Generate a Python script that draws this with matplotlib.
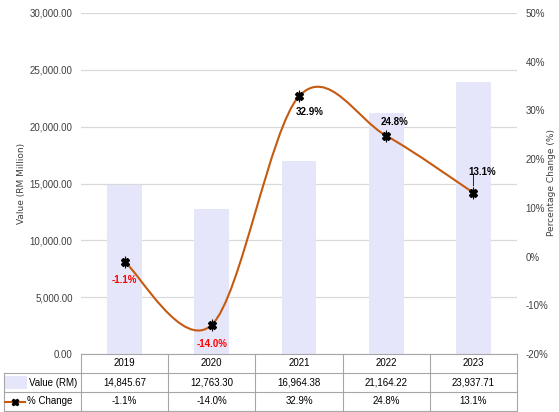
import numpy as np
import matplotlib.pyplot as plt
from matplotlib.path import Path
from matplotlib.patches import PathPatch, Rectangle
from matplotlib.lines import Line2D
import matplotlib.transforms as mtransforms

years = ["2019", "2020", "2021", "2022", "2023"]
values = [14845.67, 12763.30, 16964.38, 21164.22, 23937.71]
pct = [-1.1, -14.0, 32.9, 24.8, 13.1]
value_labels = ["14,845.67", "12,763.30", "16,964.38", "21,164.22", "23,937.71"]
pct_labels = ["-1.1%", "-14.0%", "32.9%", "24.8%", "13.1%"]

NARROW = ["Liberation Sans Narrow", "Liberation Sans", "DejaVu Sans"]
BAR_C = "#E6E6FA"
LINE_C = "#C55A11"
GRID_C = "#D9D9D9"
TAB_C = "#A6A6A6"

W, H = 559, 412
fig = plt.figure(figsize=(W / 100, H / 100), dpi=100)
L, R, T, B = 81, 517, 13, 354
ax = fig.add_axes([L / W, 1 - B / H, (R - L) / W, (B - T) / H])
ax2 = ax.twinx()

x = np.arange(len(years))
ax.bar(x, values, width=0.4, color=BAR_C, zorder=2)
ax.set_xlim(-0.5, 4.5)
ax.set_ylim(0, 30000)
ax.set_yticks(np.arange(0, 30001, 5000))
ax.set_yticklabels([f"{v:,.2f}" for v in np.arange(0, 30001, 5000)],
                   family=NARROW, fontsize=7, color="#404040")
ax.grid(axis="y", color=GRID_C, linewidth=0.9, zorder=0)
ax.set_axisbelow(True)
ax.set_xticks([])
for s in ["top", "right", "left"]:
    ax.spines[s].set_visible(False)
    ax2.spines[s].set_visible(False)
ax2.spines["bottom"].set_visible(False)
ax.spines["bottom"].set_color(TAB_C)
ax.tick_params(axis="y", length=0, pad=6)
fig.text(22 / W, 1 - 183 / H, "Value (RM Million)", rotation=90, fontsize=6.5,
         color="#404040", ha="center", va="center")

ax2.set_ylim(-20, 50)
ax2.set_yticks(np.arange(-20, 51, 10))
ax2.set_yticklabels([f"{v}%" for v in range(-20, 51, 10)],
                    family=NARROW, fontsize=7, color="#404040")
ax2.tick_params(axis="y", length=0, pad=6)
fig.text(551 / W, 1 - 183 / H, "Percentage Change (%)", rotation=90, fontsize=6.5,
         color="#404040", ha="center", va="center")

# smoothed line (Catmull-Rom style bezier, like Excel's smoothed line)
pts = np.column_stack([x, pct]).astype(float)
verts = [tuple(pts[0])]
codes = [Path.MOVETO]
n = len(pts)
for i in range(n - 1):
    p0 = pts[max(i - 1, 0)]
    p1 = pts[i]
    p2 = pts[i + 1]
    p3 = pts[min(i + 2, n - 1)]
    c1 = p1 + (p2 - p0) / 6
    c2 = p2 - (p3 - p1) / 6
    verts += [tuple(c1), tuple(c2), tuple(p2)]
    codes += [Path.CURVE4] * 3
ax2.add_patch(PathPatch(Path(verts, codes), facecolor="none",
                        edgecolor=LINE_C, linewidth=1.5, zorder=3))
ax2.plot(x, pct, linestyle="none", marker="X", markersize=5.5,
         color="black", zorder=4)
ax2.plot(x, pct, linestyle="none", marker="|", markersize=8,
         color="black", markeredgewidth=0.8, zorder=4)

# data labels
offsets = [(0, -13), (0, -14), (8, -11), (6, 10), (6, 15)]
for i, (dx, dy) in enumerate(offsets):
    col = "#FF0000" if pct[i] < 0 else "black"
    ax2.annotate(pct_labels[i], (x[i], pct[i]), xytext=(dx, dy),
                 textcoords="offset points", ha="center", va="center",
                 family=NARROW, fontsize=7, fontweight="bold", color=col, zorder=5)
ax2.annotate("", (x[4], pct[4] + 0.8), xytext=(x[4], pct[4] + 4.2),
             arrowprops=dict(arrowstyle="-", color="black", lw=0.6))

# data table below the plot
tr = mtransforms.blended_transform_factory(ax.transData, ax.transAxes)
ph = B - T
rows = [0, -19 / ph, -38 / ph, -57 / ph]
xl = -0.5 - (L - 4) / ((R - L) / 5)
lk = dict(color=TAB_C, linewidth=0.8, transform=tr, clip_on=False)
for yy in rows[1:]:
    ax.add_line(Line2D([xl, 4.5], [yy, yy], **lk))
for xx in np.arange(-0.5, 4.6, 1):
    ax.add_line(Line2D([xx, xx], [rows[0], rows[3]], **lk))
ax.add_line(Line2D([xl, xl], [rows[1], rows[3]], **lk))

tk = dict(transform=tr, ha="center", va="center", family=NARROW,
          fontsize=7, color="black", clip_on=False)
for i in range(len(years)):
    ax.text(x[i], (rows[0] + rows[1]) / 2, years[i], **tk)
    ax.text(x[i], (rows[1] + rows[2]) / 2, value_labels[i], **tk)
    ax.text(x[i], (rows[2] + rows[3]) / 2, pct_labels[i], **tk)

# legend keys inside table
u = (R - L) / 5
def px2x(p):
    return -0.5 + (p - L) / u
ax.add_patch(Rectangle((px2x(5), rows[2] + 3 / ph), px2x(27) - px2x(5), 13 / ph,
                       facecolor=BAR_C, edgecolor="none", transform=tr, clip_on=False))
ax.text(px2x(29), (rows[1] + rows[2]) / 2, "Value (RM)",
        **{**tk, "ha": "left"})
ym = (rows[2] + rows[3]) / 2
ax.add_line(Line2D([px2x(5), px2x(25)], [ym, ym], color=LINE_C, linewidth=1.5,
                   transform=tr, clip_on=False))
ax.add_line(Line2D([px2x(15)], [ym], marker="X", markersize=5, color="black",
                   linestyle="none", transform=tr, clip_on=False))
ax.text(px2x(27), ym, "% Change", **{**tk, "ha": "left"})

fig.savefig("out.png", dpi=100)
